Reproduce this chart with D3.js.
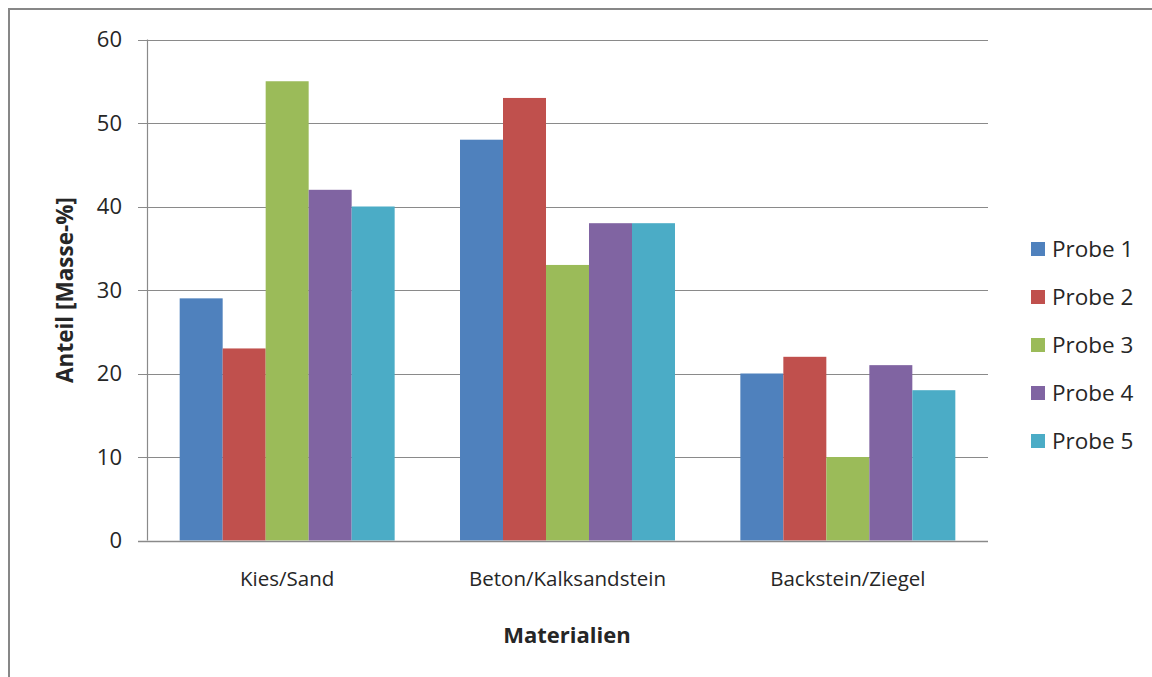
<!DOCTYPE html>
<html>
<head>
<meta charset="utf-8">
<script src="https://cdn.jsdelivr.net/npm/d3@7"></script>
<style>
  html, body { margin: 0; padding: 0; background: #fff; }
  svg { display: block; }
  text { font-family: "Open Sans", Lato, sans-serif; fill: #262626; }
</style>
</head>
<body>
<svg id="chart" width="1152" height="677"></svg>
<script>
// Materialanteile je Probe
const categories = ["Kies/Sand", "Beton/Kalksandstein", "Backstein/Ziegel"];
const series = ["Probe 1", "Probe 2", "Probe 3", "Probe 4", "Probe 5"];
const probe1 = [29, 48, 20];
const probe2 = [23, 53, 22];
const probe3 = [55, 33, 10];
const probe4 = [42, 38, 21];
const probe5 = [40, 38, 18];
const yTicks = [0, 10, 20, 30, 40, 50, 60];
const colors = ["#4F81BD", "#C0504D", "#9BBB59", "#8064A2", "#4BACC6"];

const values = [probe1, probe2, probe3, probe4, probe5];

const svg = d3.select("#chart");

// outer chart frame
svg.append("rect")
  .attr("x", 9).attr("y", 9)
  .attr("width", 1170).attr("height", 700)
  .attr("fill", "#fff")
  .attr("stroke", "#878787")
  .attr("stroke-width", 2);

const plot = { left: 147, right: 988, top: 39.5, bottom: 540.5 };

const y = d3.scaleLinear().domain([0, 60]).range([plot.bottom, plot.top]);
const x0 = d3.scaleBand().domain(categories).range([plot.left, plot.right]).padding(0);
const x1 = d3.scaleBand().domain(series).range([0, x0.bandwidth()])
  .paddingInner(0).paddingOuter(0.76);

// gridlines with tick marks to the left of the axis
svg.append("g").selectAll("line").data(yTicks.filter(d => d > 0)).join("line")
  .attr("x1", plot.left - 9).attr("x2", plot.right)
  .attr("y1", d => Math.round(y(d)) + 0.5).attr("y2", d => Math.round(y(d)) + 0.5)
  .attr("stroke", "#8a8a8a").attr("stroke-width", 1.2);

// bars
const groups = svg.append("g").selectAll("g").data(categories).join("g")
  .attr("transform", c => `translate(${x0(c)},0)`);

groups.selectAll("rect")
  .data((c, ci) => series.map((s, si) => ({ s, si, v: values[si][ci] })))
  .join("rect")
  .attr("x", d => x1(d.s))
  .attr("width", x1.bandwidth())
  .attr("y", d => y(d.v))
  .attr("height", d => y(0) - y(d.v))
  .attr("fill", d => colors[d.si]);

// y axis line and baseline
svg.append("line")
  .attr("x1", plot.left + 0.5).attr("x2", plot.left + 0.5)
  .attr("y1", plot.top).attr("y2", plot.bottom)
  .attr("stroke", "#8a8a8a").attr("stroke-width", 1.2);
svg.append("line")
  .attr("x1", plot.left - 9).attr("x2", plot.right)
  .attr("y1", Math.round(y(0)) + 0.5).attr("y2", Math.round(y(0)) + 0.5)
  .attr("stroke", "#8a8a8a").attr("stroke-width", 1.5);

// y tick labels
svg.append("g").selectAll("text").data(yTicks).join("text")
  .attr("x", 122).attr("y", d => y(d))
  .attr("dy", "0.35em")
  .attr("text-anchor", "end")
  .style("font-size", "22px")
  .text(d => d);

// category labels
svg.append("g").selectAll("text").data(categories).join("text")
  .attr("x", c => x0(c) + x0.bandwidth() / 2)
  .attr("y", 586)
  .attr("text-anchor", "middle")
  .style("font-size", "20.5px")
  .text(c => c);

// axis titles
svg.append("text")
  .attr("x", 567).attr("y", 643)
  .attr("text-anchor", "middle")
  .style("font-size", "22px").style("font-weight", "bold")
  .text("Materialien");

svg.append("text")
  .attr("transform", `translate(73,290) rotate(-90)`)
  .attr("text-anchor", "middle")
  .style("font-size", "22.5px").style("font-weight", "bold")
  .text("Anteil [Masse-%]");

// legend
const legend = svg.append("g").selectAll("g").data(series).join("g")
  .attr("transform", (s, i) => `translate(1031,${249 + i * 48})`);
legend.append("rect")
  .attr("x", 0).attr("y", -7).attr("width", 14).attr("height", 14)
  .attr("fill", (s, i) => colors[i]);
legend.append("text")
  .attr("x", 21).attr("y", 0).attr("dy", "0.35em")
  .style("font-size", "22.5px")
  .text(s => s);
</script>
</body>
</html>
